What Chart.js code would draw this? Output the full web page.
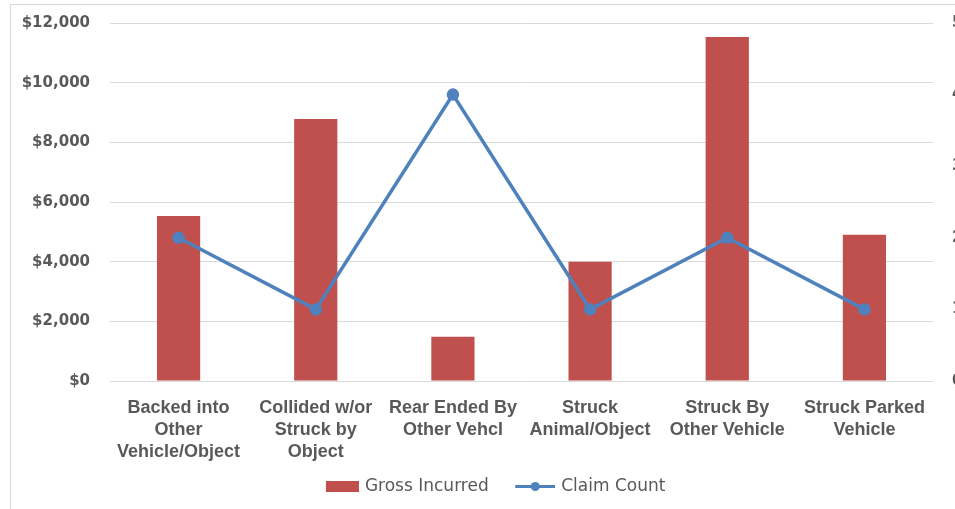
<!DOCTYPE html>
<html>
<head>
<meta charset="utf-8">
<script src="https://cdn.jsdelivr.net/npm/chart.js@4"></script>
<style>
  html, body { margin: 0; padding: 0; background: #fff; overflow: hidden; width: 955px; height: 509px; }
  #frame { position: absolute; left: 10px; top: 4px; width: 990px; height: 540px;
           border-left: 1px solid #d9d9d9; border-top: 1px solid #d9d9d9; }
  #wrap { position: absolute; left: -18px; top: 0; width: 980px; height: 505px; }
</style>
</head>
<body>
<div id="frame"><div id="wrap"><canvas id="myChart"></canvas></div></div>
<script>
const categories = [
  ["Backed into", "Other", "Vehicle/Object"],
  ["Collided w/or", "Struck by", "Object"],
  ["Rear Ended By", "Other Vehcl"],
  ["Struck", "Animal/Object"],
  ["Struck By", "Other Vehicle"],
  ["Struck Parked", "Vehicle"]
];
const grossIncurred = [5530, 8780, 1480, 4000, 11530, 4900];
const claimCount = [2, 1, 4, 1, 2, 1];

const red = "#C0504D";
const blue = "#4F81BD";
const gray = "#595959";
const symW = 54;

// legend symbols, drawn at the right end of a wider transparent canvas
function barSymbol() {
  const c = document.createElement("canvas");
  c.width = symW + 5; c.height = 11;
  const g = c.getContext("2d");
  g.fillStyle = red;
  g.fillRect(c.width - 33, 0, 33, 11);
  return c;
}
function lineSymbol() {
  const c = document.createElement("canvas");
  c.width = symW + 5; c.height = 11;
  const g = c.getContext("2d");
  g.strokeStyle = blue; g.lineWidth = 3;
  g.beginPath(); g.moveTo(c.width - 40, 5.5); g.lineTo(c.width, 5.5); g.stroke();
  g.fillStyle = blue;
  g.beginPath(); g.arc(c.width - 20, 5.5, 4.5, 0, Math.PI * 2); g.fill();
  return c;
}
const symbols = [barSymbol(), lineSymbol()];

new Chart("myChart", {
  data: {
    labels: categories,
    datasets: [
      {
        type: "line",
        label: "Claim Count",
        data: claimCount,
        borderColor: blue,
        backgroundColor: blue,
        borderWidth: 3.5,
        pointRadius: 4.5,
        pointHoverRadius: 4.5,
        yAxisID: "y1",
        order: 0
      },
      {
        type: "bar",
        label: "Gross Incurred",
        data: grossIncurred,
        backgroundColor: red,
        barPercentage: 0.315,
        categoryPercentage: 1,
        yAxisID: "y",
        order: 1
      }
    ]
  },
  options: {
    responsive: true,
    maintainAspectRatio: false,
    animation: false,
    layout: { padding: { top: 18, bottom: 5, left: 18, right: 0 } },
    plugins: {
      tooltip: { enabled: false },
      legend: {
        position: "bottom",
        labels: {
          usePointStyle: true,
          pointStyleWidth: symW,
          padding: 10,
          color: gray,
          font: { family: "'DejaVu Sans', sans-serif", size: 17 },
          generateLabels: (chart) => {
            return [1, 0].map((i, k) => ({
              text: chart.data.datasets[i].label + (k === 1 ? "   " : ""),
              pointStyle: symbols[k],
              fontColor: gray,
              datasetIndex: i,
              lineWidth: 0,
              hidden: false
            }));
          }
        }
      }
    },
    scales: {
      x: {
        grid: { display: false },
        border: { display: false },
        ticks: {
          color: gray,
          maxRotation: 0,
          autoSkip: false,
          padding: 8,
          font: { family: "'Liberation Sans', sans-serif", size: 18, weight: "bold", lineHeight: 1.22 }
        },
        afterFit: (s) => { s.height = 87; }
      },
      y: {
        position: "left",
        min: 0, max: 12000,
        ticks: {
          stepSize: 2000,
          color: gray,
          padding: 0,
          font: { family: "'DejaVu Sans', sans-serif", size: 15, weight: "bold" },
          callback: (v) => "$" + v.toLocaleString("en-US")
        },
        grid: { color: "#d9d9d9", drawTicks: true, tickLength: 20, tickColor: "rgba(0,0,0,0)" },
        border: { display: false },
        afterFit: (s) => { s.width = 99; }
      },
      y1: {
        position: "right",
        min: 0, max: 5,
        ticks: {
          stepSize: 1,
          color: gray,
          padding: 0,
          font: { family: "'DejaVu Sans', sans-serif", size: 15, weight: "bold" }
        },
        grid: { display: true, drawOnChartArea: false, drawTicks: true, tickLength: 19, tickColor: "rgba(0,0,0,0)" },
        border: { display: false },
        afterFit: (s) => { s.width = 40; }
      }
    }
  }
});
</script>
</body>
</html>
